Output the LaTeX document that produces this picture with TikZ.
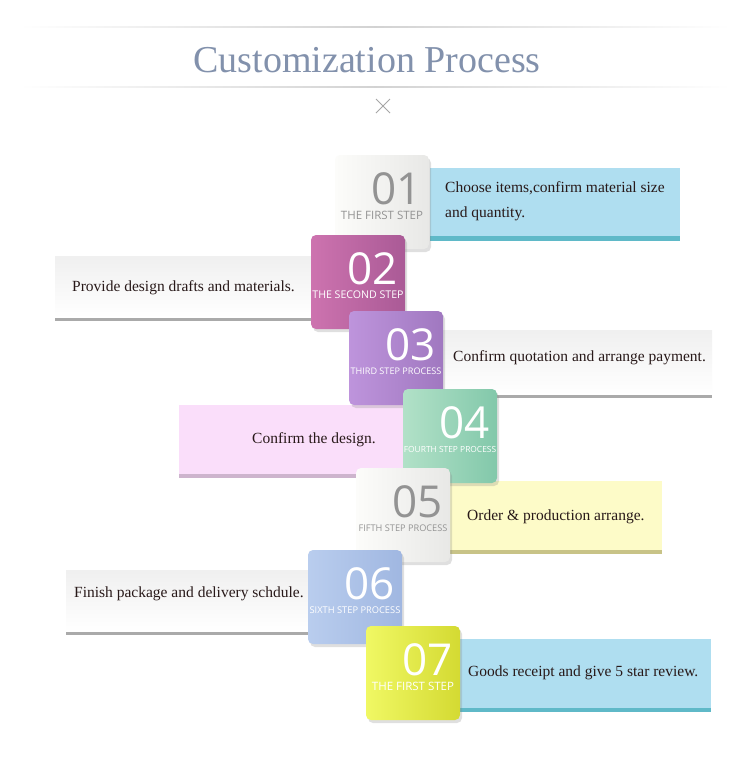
\documentclass[tikz,border=0pt]{standalone}
\usepackage{fontspec}
\setmainfont{Liberation Serif}
\newfontfamily\boxfont{Open Sans}
\usetikzlibrary{shadows}
\definecolor{titlecol}{RGB}{130,145,172}
\definecolor{bandblue}{RGB}{175,222,240}
\definecolor{stripteal}{RGB}{95,185,200}
\definecolor{bandyellow}{RGB}{253,251,200}
\definecolor{stripolive}{RGB}{200,195,135}
\definecolor{bandpink}{RGB}{250,222,250}
\definecolor{strippink}{RGB}{205,180,205}
\definecolor{stripgray}{RGB}{170,170,170}
\definecolor{txtcol}{RGB}{40,25,25}
\definecolor{wA}{RGB}{252,252,250}\definecolor{wB}{RGB}{232,232,230}
\definecolor{mA}{RGB}{205,115,175}\definecolor{mB}{RGB}{170,90,150}
\definecolor{pA}{RGB}{190,148,220}\definecolor{pB}{RGB}{160,120,192}
\definecolor{gA}{RGB}{178,225,200}\definecolor{gB}{RGB}{130,200,170}
\definecolor{bA}{RGB}{185,205,238}\definecolor{bB}{RGB}{160,183,225}
\definecolor{yA}{RGB}{240,248,100}\definecolor{yB}{RGB}{212,218,50}
\tikzset{
  stepbox/.style={rounded corners=5pt,minimum width=94pt,minimum height=94pt,inner sep=0pt,drop shadow={opacity=0.25,shadow xshift=2pt,shadow yshift=-3pt}},
  bandtext/.style={font=\fontsize{15.5}{25}\selectfont,text=txtcol,anchor=west,align=left,inner sep=0pt},
}
\begin{document}
\begin{tikzpicture}[x=1pt,y=-1pt]
\useasboundingbox (0,0) rectangle (750,777);
\fill[white] (0,0) rectangle (750,777);
% header
\shade[left color=white,right color=white,middle color=gray!35] (20,26.5) rectangle (730,27.5);
\shade[left color=white,right color=white,middle color=gray!35] (20,86.5) rectangle (730,87.5);
\node[font=\fontsize{38}{42}\selectfont,text=titlecol] (title) at (367,60) {Customization Process};
\draw[gray!70,line width=0.8pt] (376,99) -- (390,113) (390,99) -- (376,113);
% bands
\fill[bandblue] (430,168) rectangle (680,241);
\fill[stripteal] (430,236) rectangle (680,241);
\shade[top color=gray!12,bottom color=white] (55,256) rectangle (315,318);
\fill[stripgray] (55,318) rectangle (315,321);
\shade[top color=gray!12,bottom color=white] (440,330) rectangle (712,395);
\fill[stripgray] (440,395) rectangle (712,398);
\fill[bandpink] (179,405) rectangle (405,478);
\fill[strippink] (179,474) rectangle (405,478);
\fill[bandyellow] (450,481) rectangle (662,554);
\fill[stripolive] (450,550) rectangle (662,554);
\shade[top color=gray!12,bottom color=white] (66,570) rectangle (310,632);
\fill[stripgray] (66,632) rectangle (310,635);
\fill[bandblue] (460,639) rectangle (711,712);
\fill[stripteal] (460,708) rectangle (711,712);
% band texts
\node[bandtext] (t1) at (445,201) {Choose items,confirm material size\\and quantity.};
\node[bandtext] (t2) at (72,288) {Provide design drafts and materials.};
\node[bandtext] (t3) at (453,358) {Confirm quotation and arrange payment.};
\node[bandtext,anchor=center] (t4) at (314,440) {Confirm the design.};
\node[bandtext] (t5) at (467,517) {Order \& production arrange.};
\node[bandtext] (t6) at (74,594) {Finish package and delivery schdule.};
\node[bandtext] (t7) at (468,673) {Goods receipt and give 5 star review.};
% step boxes
\foreach \n/\x/\y/\ca/\cb/\tc/\fs/\lab in {
  1/382/202/wA/wB/gray!85/11.5/THE FIRST STEP,
  2/358/282/mA/mB/white/10.6/THE SECOND STEP,
  3/396/358/pA/pB/white/9.1/THIRD STEP PROCESS,
  4/450/436/gA/gB/white/8.4/FOURTH STEP PROCESS,
  5/403/515/wA/wB/gray!85/9.2/FIFTH STEP PROCESS,
  6/355/597/bA/bB/white/9.3/SIXTH STEP PROCESS,
  7/413/673/yA/yB/white/11.5/THE FIRST STEP} {
  \node[stepbox,left color=\ca,right color=\cb] (s\n) at (\x,\y) {};
  \node[font=\boxfont\fontsize{44}{44}\selectfont,text=\tc,anchor=east,inner sep=0pt] (num\n) at ([xshift=-7pt,yshift=13pt]s\n.east) {0\n};
  \node[font=\boxfont\fontsize{\fs}{12}\selectfont,text=\tc,inner sep=0pt] (lab\n) at ([yshift=-13pt]s\n.center) {\lab};
}
\end{tikzpicture}
\end{document}
